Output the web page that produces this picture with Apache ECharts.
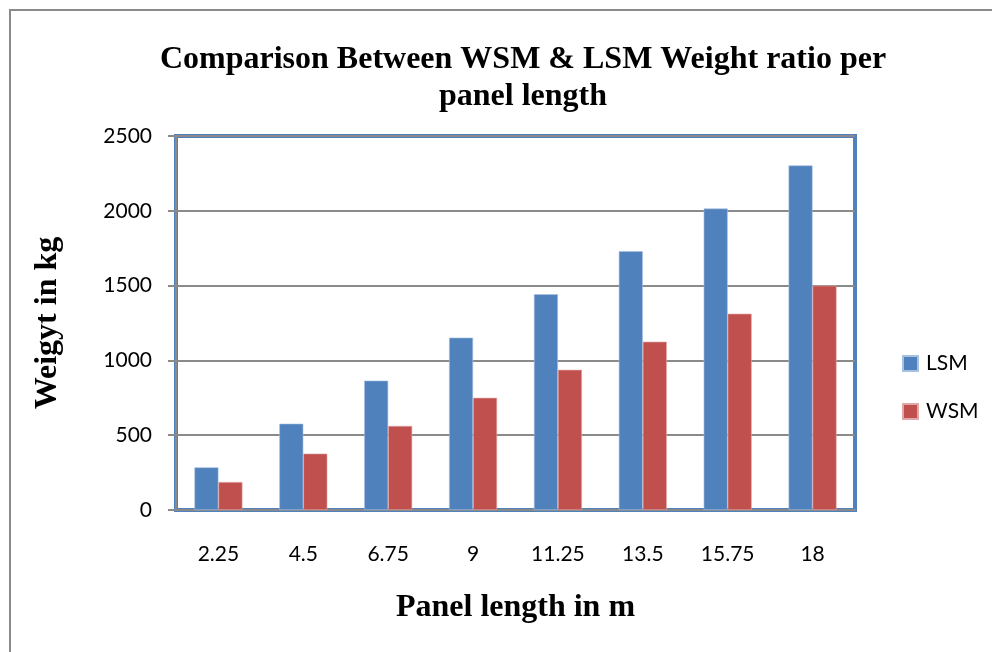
<!DOCTYPE html>
<html>
<head>
<meta charset="utf-8">
<script src="https://cdn.jsdelivr.net/npm/echarts@6/dist/echarts.min.js"></script>
<style>html,body{margin:0;padding:0;background:#fff;}#c{width:992px;height:652px;}</style>
</head>
<body>
<div id="c"></div>
<script>
const categories = ['2.25', '4.5', '6.75', '9', '11.25', '13.5', '15.75', '18'];
const lsmValues = [285, 577, 865, 1152, 1442, 1730, 2015, 2303];
const wsmValues = [187, 377, 562, 750, 937, 1125, 1312, 1500];
const yTicks = { min: 0, max: 2500, interval: 500 };

const chart = echarts.init(document.getElementById('c'));
chart.setOption({
  animation: false,
  backgroundColor: '#fff',
  title: {
    text: 'Comparison Between WSM & LSM Weight ratio per\npanel length',
    left: 518,
    textAlign: 'center',
    top: 36,
    textStyle: { fontFamily: 'Liberation Serif', fontWeight: 'bold', fontSize: 32, lineHeight: 37, color: '#000' }
  },
  graphic: [{
    type: 'rect', shape: { x: 10, y: 10, width: 1000, height: 700 },
    style: { fill: 'none', stroke: '#8a8a8a', lineWidth: 2 }, silent: true, z: -10
  }],
  legend: {
    orient: 'vertical', left: 897, top: 348, itemWidth: 15, itemHeight: 15, itemGap: 27,
    icon: 'rect',
    textStyle: { fontFamily: 'Lato', fontSize: 21, color: '#000', padding: [0, 0, 0, 3] },
    data: ['LSM', 'WSM']
  },
  grid: {
    left: 176, right: 137, top: 136, bottom: 142,
    show: true, borderColor: '#4F81BD', borderWidth: 4, backgroundColor: '#fff'
  },
  xAxis: {
    type: 'category', data: categories,
    name: 'Panel length in m', nameLocation: 'middle', nameGap: 82,
    nameTextStyle: { fontFamily: 'Liberation Serif', fontWeight: 'bold', fontSize: 32, color: '#000' },
    axisLine: { lineStyle: { color: '#8a8a8a', width: 2 } },
    axisTick: { show: false },
    axisLabel: { fontFamily: 'Lato', fontSize: 21, color: '#000', margin: 34 }
  },
  yAxis: {
    type: 'value', min: yTicks.min, max: yTicks.max, interval: yTicks.interval,
    name: 'Weigyt in kg', nameLocation: 'middle', nameGap: 112, nameRotate: 90,
    nameTextStyle: { fontFamily: 'Liberation Serif', fontWeight: 'bold', fontSize: 32, color: '#000' },
    axisLine: { show: true, lineStyle: { color: '#8a8a8a', width: 2 } },
    axisTick: { show: true, inside: false, length: 8, lineStyle: { color: '#8a8a8a', width: 2 } },
    axisLabel: { fontFamily: 'Lato', fontSize: 21, color: '#000', margin: 24, formatter: v => String(v) },
    splitLine: { lineStyle: { color: '#8a8a8a', width: 2 } }
  },
  series: [
    { name: 'LSM', type: 'bar', data: lsmValues, barWidth: 24, barGap: '0%',
      itemStyle: { color: '#4F81BD', borderColor: '#a9c1e0', borderWidth: 0.6 } },
    { name: 'WSM', type: 'bar', data: wsmValues, barWidth: 24, barGap: '0%',
      itemStyle: { color: '#C0504D', borderColor: '#e0a9a8', borderWidth: 0.6 } }
  ]
});
</script>
</body>
</html>
